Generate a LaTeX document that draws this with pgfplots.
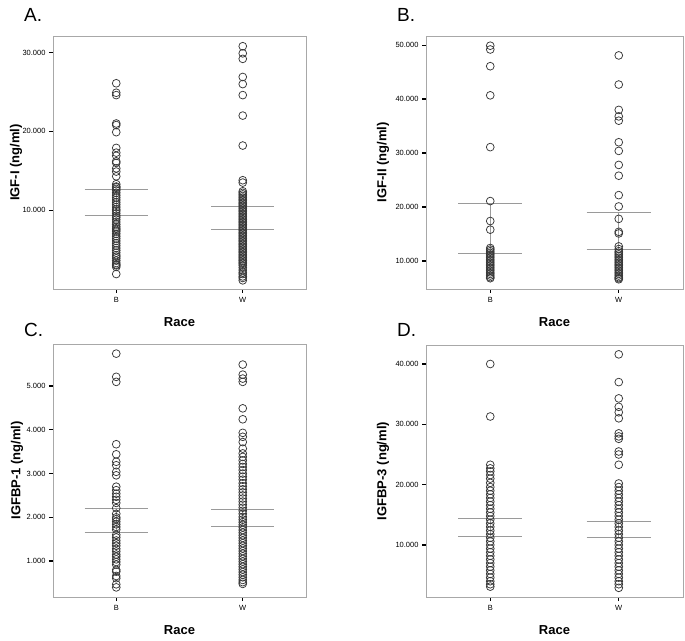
\documentclass[border=0pt]{standalone}
\usepackage{fontspec}
\setmainfont{Liberation Sans}
\usepackage{pgfplots}
\pgfplotsset{compat=1.18}
\definecolor{framegray}{HTML}{A8A8A8}
\definecolor{markgray}{HTML}{383838}
\definecolor{meangray}{HTML}{9A9A9A}
\pgfplotsset{
  panel/.style={
    scale only axis,
    xmin=-0.5, xmax=1.5,
    xtick={0,1}, xticklabels={B,W},
    axis line style={draw=framegray, line width=0.6pt},
    tick align=outside,
    ytick pos=left, xtick pos=bottom,
    major tick length=4pt,
    tick style={black, line width=1.3pt},
    tick label style={font=\fontsize{7.5}{8}\selectfont},
    xticklabel style={yshift=-1pt},
    xlabel={Race},
    every axis x label/.style={at={(axis description cs:0.5,-0.13)}, anchor=center, font=\bfseries\fontsize{13}{15}\selectfont},
  },
  ylab/.style={every axis y label/.style={at={(axis description cs:#1,0.5)}, rotate=90, anchor=center, font=\bfseries\fontsize{13}{15}\selectfont}},
  pts/.style={only marks, mark=o, mark size=3.9pt, mark options={draw=markgray, line width=0.75pt}},
  mline/.style={meangray, line width=0.8pt, no marks},
}
\begin{document}
\begin{tikzpicture}
\path[use as bounding box] (0,0) rectangle (685pt,640pt);

% ---------------- Panel A ----------------
\begin{axis}[panel, at={(53pt,351pt)}, anchor=south west, width=253pt, height=253pt,
  ymin=0, ymax=32.1, ytick={10,20,30}, yticklabels={10.000,20.000,30.000},
  ylabel={IGF-I (ng/ml)}, ylab=-0.146]
\addplot[mline] coordinates {(0,12.67) (0,9.37)};
\addplot[mline] coordinates {(1,10.5) (1,7.59)};
\addplot[pts] coordinates {
(0,26.1) (0,24.9) (0,24.6) (0,21.0) (0,20.8) (0,19.9) (0,17.9) (0,17.3) (0,16.9) (0,16.2) (0,16.0)
(0,15.3) (0,14.9) (0,14.3) (0,13.3) (0,13.0) (0,12.9) (0,12.7) (0,12.5) (0,12.2) (0,11.9) (0,11.6)
(0,11.3) (0,11.0) (0,10.7) (0,10.4) (0,10.1) (0,9.9) (0,9.6) (0,9.3) (0,9.1) (0,8.8) (0,8.5) (0,8.2)
(0,7.9) (0,7.7) (0,7.5) (0,7.3) (0,7.0) (0,6.7) (0,6.4) (0,6.1) (0,5.8) (0,5.5) (0,5.2) (0,4.9)
(0,4.6) (0,4.3) (0,4.1) (0,3.9) (0,3.6) (0,3.3) (0,3.1) (0,3.0) (0,2.8) (0,1.9)
};
\addplot[pts] coordinates {
(1,30.8) (1,29.9) (1,29.2) (1,26.9) (1,26.0) (1,24.6) (1,22.0) (1,18.2) (1,13.8) (1,13.5)
(1,12.4) (1,12.2) (1,12.0) (1,11.8) (1,11.6) (1,11.4) (1,11.2) (1,11.0) (1,10.8) (1,10.6) (1,10.4)
(1,10.2) (1,10.0) (1,9.8) (1,9.6) (1,9.4) (1,9.2) (1,9.0) (1,8.8) (1,8.6) (1,8.4) (1,8.2) (1,8.0)
(1,7.8) (1,7.6) (1,7.4) (1,7.2) (1,7.0) (1,6.8) (1,6.6) (1,6.4) (1,6.2) (1,6.0) (1,5.8) (1,5.6)
(1,5.4) (1,5.2) (1,5.0) (1,4.8) (1,4.6) (1,4.4) (1,4.2) (1,4.0) (1,3.8) (1,3.6) (1,3.4) (1,3.2)
(1,3.0) (1,2.7) (1,2.4) (1,2.1) (1,1.9) (1,1.6) (1,1.4) (1,1.1)
};
\addplot[mline] coordinates {(-0.25,12.67) (0.25,12.67)};
\addplot[mline] coordinates {(-0.25,9.37) (0.25,9.37)};
\addplot[mline] coordinates {(0.75,10.5) (1.25,10.5)};
\addplot[mline] coordinates {(0.75,7.59) (1.25,7.59)};
\end{axis}

% ---------------- Panel B ----------------
\begin{axis}[panel, at={(426pt,351pt)}, anchor=south west, width=257pt, height=253pt,
  ymin=4.8, ymax=51.7, ytick={10,20,30,40,50}, yticklabels={10.000,20.000,30.000,40.000,50.000},
  ylabel={IGF-II (ng/ml)}, ylab=-0.167]
\addplot[mline] coordinates {(0,20.74) (0,11.35)};
\addplot[mline] coordinates {(1,18.95) (1,12.22)};
\addplot[pts] coordinates {
(0,49.9) (0,49.2) (0,46.1) (0,40.7) (0,31.1) (0,21.1) (0,17.4) (0,15.8) (0,12.4) (0,12.1) (0,11.8)
(0,11.5) (0,11.2) (0,10.9) (0,10.6) (0,10.3) (0,10.0) (0,9.7) (0,9.4) (0,9.1) (0,8.8) (0,8.5)
(0,8.2) (0,7.9) (0,7.6) (0,7.3) (0,7.0) (0,6.8)
};
\addplot[pts] coordinates {
(1,48.1) (1,42.7) (1,38.0) (1,36.8) (1,36.0) (1,32.0) (1,30.4) (1,27.8) (1,25.8) (1,22.2) (1,20.1)
(1,17.8) (1,15.4) (1,15.1) (1,12.7) (1,12.2) (1,11.8) (1,11.5) (1,11.2) (1,10.9) (1,10.6) (1,10.3)
(1,10.0) (1,9.7) (1,9.4) (1,9.1) (1,8.8) (1,8.5) (1,8.2) (1,7.9) (1,7.6) (1,7.3) (1,7.0) (1,6.8) (1,6.6)
};
\addplot[mline] coordinates {(-0.25,20.74) (0.25,20.74)};
\addplot[mline] coordinates {(-0.25,11.35) (0.25,11.35)};
\addplot[mline] coordinates {(0.75,18.95) (1.25,18.95)};
\addplot[mline] coordinates {(0.75,12.22) (1.25,12.22)};
\end{axis}

% ---------------- Panel C ----------------
\begin{axis}[panel, at={(53pt,43pt)}, anchor=south west, width=253pt, height=253pt,
  ymin=0.18, ymax=5.96, ytick={1,2,3,4,5}, yticklabels={1.000,2.000,3.000,4.000,5.000},
  ylabel={IGFBP-1 (ng/ml)}, ylab=-0.142]
\addplot[mline] coordinates {(0,2.21) (0,1.65)};
\addplot[mline] coordinates {(1,2.19) (1,1.79)};
\addplot[pts] coordinates {
(0,5.74) (0,5.21) (0,5.095) (0,3.67) (0,3.44) (0,3.27) (0,3.19) (0,3.04) (0,2.96) (0,2.70) (0,2.62)
(0,2.54) (0,2.47) (0,2.40) (0,2.33) (0,2.21) (0,2.08) (0,2.00) (0,1.96) (0,1.90) (0,1.84) (0,1.78)
(0,1.72) (0,1.60) (0,1.54) (0,1.47) (0,1.41) (0,1.35) (0,1.28) (0,1.22) (0,1.15) (0,1.10) (0,1.04)
(0,0.98) (0,0.92) (0,0.80) (0,0.76) (0,0.66) (0,0.61) (0,0.47) (0,0.40)
};
\addplot[pts] coordinates {
(1,5.49) (1,5.26) (1,5.17) (1,5.095) (1,4.49) (1,4.24) (1,3.93) (1,3.84) (1,3.72) (1,3.57) (1,3.46)
(1,3.38) (1,3.30) (1,3.22) (1,3.15) (1,3.08) (1,3.00) (1,2.93) (1,2.86) (1,2.78) (1,2.71) (1,2.64)
(1,2.57) (1,2.50) (1,2.43) (1,2.36) (1,2.29) (1,2.22) (1,2.15) (1,2.08) (1,2.01) (1,1.95) (1,1.89)
(1,1.83) (1,1.77) (1,1.71) (1,1.65) (1,1.59) (1,1.53) (1,1.47) (1,1.41) (1,1.35) (1,1.29) (1,1.23)
(1,1.17) (1,1.11) (1,1.05) (1,0.99) (1,0.93) (1,0.87) (1,0.81) (1,0.75) (1,0.69) (1,0.63) (1,0.57)
(1,0.52) (1,0.48)
};
\addplot[mline] coordinates {(-0.25,2.21) (0.25,2.21)};
\addplot[mline] coordinates {(-0.25,1.65) (0.25,1.65)};
\addplot[mline] coordinates {(0.75,2.19) (1.25,2.19)};
\addplot[mline] coordinates {(0.75,1.79) (1.25,1.79)};
\end{axis}

% ---------------- Panel D ----------------
\begin{axis}[panel, at={(426pt,43pt)}, anchor=south west, width=257pt, height=252pt,
  ymin=1.38, ymax=43.15, ytick={10,20,30,40}, yticklabels={10.000,20.000,30.000,40.000},
  ylabel={IGFBP-3 (ng/ml)}, ylab=-0.167]
\addplot[mline] coordinates {(0,14.36) (0,11.38)};
\addplot[mline] coordinates {(1,13.93) (1,11.21)};
\addplot[pts] coordinates {
(0,40.0) (0,31.3) (0,23.3) (0,22.7) (0,22.2) (0,21.6) (0,21.0) (0,20.3) (0,19.6) (0,19.0) (0,18.4)
(0,17.8) (0,17.2) (0,16.6) (0,16.0) (0,15.4) (0,14.8) (0,14.2) (0,13.6) (0,13.0) (0,12.4) (0,11.8)
(0,11.2) (0,10.6) (0,10.0) (0,9.4) (0,8.8) (0,8.2) (0,7.6) (0,7.0) (0,6.4) (0,5.8) (0,5.2) (0,4.6)
(0,4.0) (0,3.5) (0,3.1)
};
\addplot[pts] coordinates {
(1,41.6) (1,37.0) (1,34.3) (1,32.9) (1,32.0) (1,31.0) (1,28.5) (1,28.0) (1,27.6) (1,25.5) (1,25.0)
(1,23.3) (1,20.2) (1,19.6) (1,19.0) (1,18.4) (1,17.8) (1,17.2) (1,16.6) (1,16.0) (1,15.4) (1,14.8)
(1,14.2) (1,13.6) (1,13.0) (1,12.4) (1,11.8) (1,11.2) (1,10.6) (1,10.0) (1,9.4) (1,8.8) (1,8.2)
(1,7.6) (1,7.0) (1,6.4) (1,5.8) (1,5.2) (1,4.6) (1,4.0) (1,3.5) (1,2.9)
};
\addplot[mline] coordinates {(-0.25,14.36) (0.25,14.36)};
\addplot[mline] coordinates {(-0.25,11.38) (0.25,11.38)};
\addplot[mline] coordinates {(0.75,13.93) (1.25,13.93)};
\addplot[mline] coordinates {(0.75,11.21) (1.25,11.21)};
\end{axis}

% panel letters
\node[anchor=base west, font=\fontsize{19}{20}\selectfont, inner sep=0pt] at (24pt,618pt) {A.};
\node[anchor=base west, font=\fontsize{19}{20}\selectfont, inner sep=0pt] at (397pt,618pt) {B.};
\node[anchor=base west, font=\fontsize{19}{20}\selectfont, inner sep=0pt] at (24pt,303pt) {C.};
\node[anchor=base west, font=\fontsize{19}{20}\selectfont, inner sep=0pt] at (397pt,303pt) {D.};
\end{tikzpicture}
\end{document}
